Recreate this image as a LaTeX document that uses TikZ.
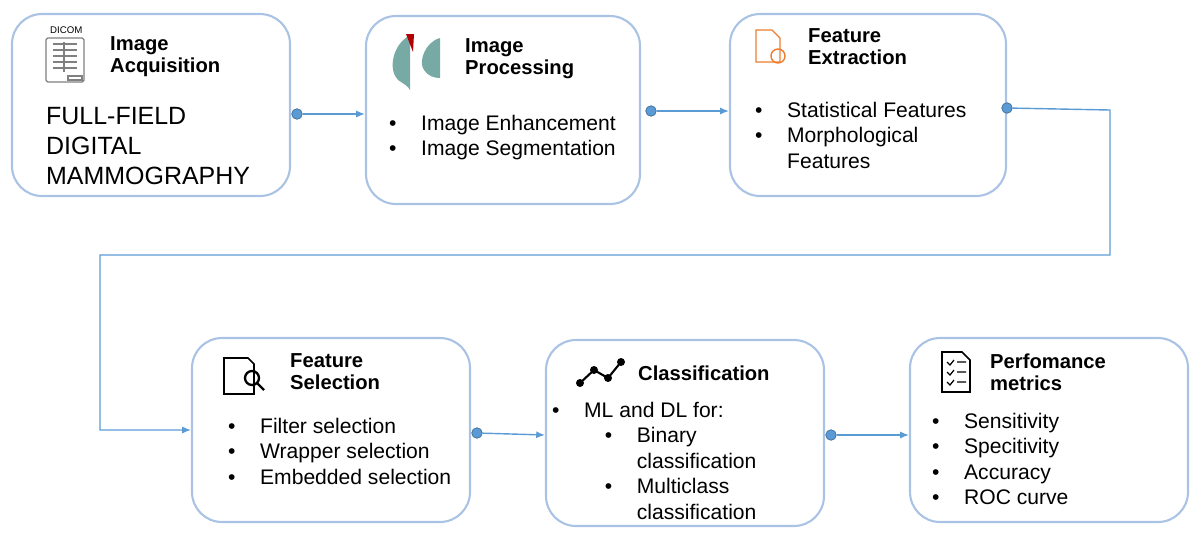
\documentclass[tikz,border=0pt]{standalone}
\usepackage{fontspec}
\setmainfont{Liberation Sans}
\usetikzlibrary{arrows.meta}
\definecolor{boxline}{RGB}{170,195,228}
\definecolor{conn}{RGB}{91,155,213}
\definecolor{skin}{RGB}{120,170,165}
\definecolor{orng}{RGB}{237,125,49}
\newcommand{\bl}{\textbullet\hspace{14pt}}
\newcommand{\ind}{\phantom{\textbullet}\hspace{14pt}}
\begin{document}
\begin{tikzpicture}[x=0.02cm,y=-0.02cm,
  box/.style={draw=boxline,line width=1.2pt,rounded corners=0.6cm},
  ttl/.style={anchor=west,align=left,font=\fontsize{11.5}{12.5}\selectfont\bfseries},
  body/.style={anchor=north west,align=left,font=\fontsize{12}{14.5}\selectfont},
  conn/.style={draw=conn,line width=0.8pt,-{Latex[length=5pt,width=4pt]}},
  dot/.style={circle,fill=conn,draw=conn!70!black,inner sep=0pt,minimum size=6pt}]
\useasboundingbox (0,0) rectangle (1200,542);
% boxes
\draw[box] (12,14) rectangle (290,196);
\draw[box] (366,16) rectangle (640,204);
\draw[box] (730,14) rectangle (1006,196);
\draw[box] (192,338) rectangle (470,522);
\draw[box] (546,340) rectangle (824,526);
\draw[box] (910,338) rectangle (1188,522);
% titles
\node[ttl] (t1) at (104,57) {Image\\Acquisition};
\node[ttl] (t2) at (459,59) {Image\\Processing};
\node[ttl] (t3) at (802,47) {Feature\\Extraction};
\node[ttl] (t4) at (284,372) {Feature\\Selection};
\node[ttl] (t5) at (632,373) {Classification};
\node[ttl] (t6) at (984,372) {Perfomance\\metrics};
% bodies
\node[body,font=\fontsize{14.2}{17.2}\selectfont] (b1) at (40,101) {FULL-FIELD\\DIGITAL\\MAMMOGRAPHY};
\node[body] (b2) at (383,109) {\bl Image Enhancement\\\bl Image Segmentation};
\node[body] (b3) at (749,96) {\bl Statistical Features\\\bl Morphological\\\ind Features};
\node[body] (b4) at (222,412) {\bl Filter selection\\\bl Wrapper selection\\\bl Embedded selection};
\node[body] (b5) at (546,396) {\bl ML and DL for:\\\hspace{30pt}\bl Binary\\\hspace{30pt}\ind classification\\\hspace{30pt}\bl Multiclass\\\hspace{30pt}\ind classification};
\node[body] (b6) at (926,407) {\bl Sensitivity\\\bl Specitivity\\\bl Accuracy\\\bl ROC curve};
% icons (simplified)
\node[font=\fontsize{5.5}{6}\selectfont,anchor=west] (dc) at (44,30) {DICOM};
\draw[gray,line width=0.7pt,rounded corners=1pt] (46,38) rectangle (84,82);
\foreach \yy in {44,50,56,62,68} \draw[gray,line width=0.6pt] (53,\yy) -- (77,\yy);
\draw[gray,line width=0.6pt] (64,42) -- (64,72);
\draw[gray,line width=0.6pt] (68,76) rectangle (82,80);
\fill[skin] (410,35) .. controls (392,45) and (388,70) .. (398,80) .. controls (404,84) and (408,86) .. (410,90) -- cycle;
\fill[red!70!black] (406,34) -- (414,34) -- (413,52) -- cycle;
\fill[skin] (440,38) .. controls (425,42) and (418,62) .. (424,70) .. controls (428,76) and (434,78) .. (440,78) -- cycle;
\draw[orng,line width=0.8pt] (756,30) -- (772,30) -- (780,38) -- (780,62) -- (756,62) -- cycle;
\draw[orng,line width=0.8pt] (778,56) circle (7);
\draw[black,line width=0.9pt] (224,358) -- (248,358) -- (254,364) -- (254,394) -- (224,394) -- cycle;
\draw[black,line width=1.3pt] (252,378) circle (7) (257,383) -- (264,390);
\foreach \p/\q in {580/383,594/370,608/378,621/362} \fill (\p,\q) circle (4);
\draw[line width=1.2pt] (580,383) -- (594,370) -- (608,378) -- (621,362);
\draw[line width=0.9pt] (942,352) -- (962,352) -- (970,360) -- (970,392) -- (942,392) -- cycle;
\foreach \yy in {362,372,382} \draw[line width=0.7pt] (947,\yy) -- (950,\yy+3) -- (954,\yy-2) (957,\yy) -- (966,\yy);
% connectors
\node[dot] (d1) at (297,114) {};
\coordinate (e1) at (365,114);
\draw[conn] (d1) -- (e1);
\node[dot] (d2) at (651,111) {};
\coordinate (e2) at (729,111);
\draw[conn] (d2) -- (e2);
\node[dot] (d3) at (1007,108) {};
\coordinate (e3) at (191,430);
\draw[conn] (d3) -- (1110,110) -- (1110,255) -- (100,255) -- (100,430) -- (e3);
\node[dot] (d4) at (477,433) {};
\coordinate (e4) at (545,435);
\draw[conn] (d4) -- (e4);
\node[dot] (d5) at (831,435) {};
\coordinate (e5) at (909,435);
\draw[conn] (d5) -- (e5);
\end{tikzpicture}
\end{document}
